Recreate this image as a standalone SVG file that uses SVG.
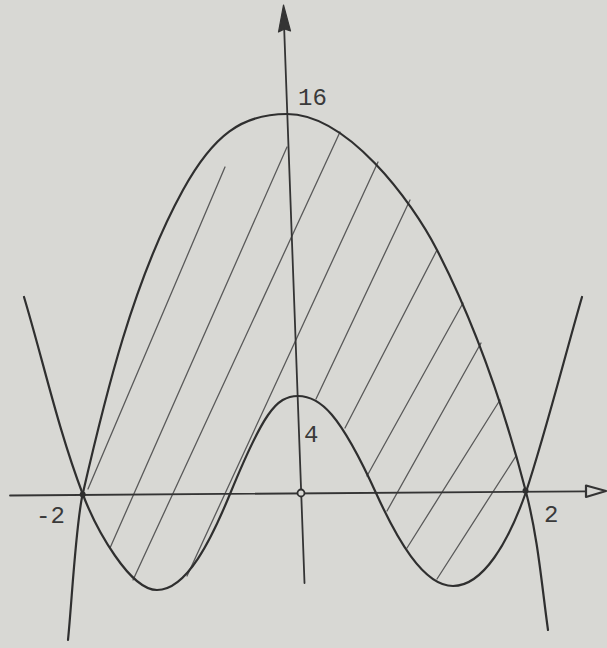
<svg xmlns="http://www.w3.org/2000/svg" width="607" height="648" viewBox="0 0 607 648">
<style>
.curve{fill:none;stroke:#2f2f2f;stroke-width:2.2;stroke-linecap:round;stroke-linejoin:round}
.hatch{fill:none;stroke:#5a5a5a;stroke-width:1.3;stroke-linecap:round}
.axis{fill:none;stroke:#343434;stroke-width:1.8;stroke-linecap:round}
.lbl{font-family:"Liberation Mono","Courier New",monospace;font-size:24px;fill:#3a3a3a}
</style>
<rect x="0" y="0" width="607" height="648" fill="#d8d8d4"/>
<g id="hatching">
<line class="hatch" x1="225" y1="167" x2="88" y2="489"/>
<line class="hatch" x1="287" y1="147" x2="110" y2="548"/>
<line class="hatch" x1="340" y1="132" x2="133" y2="580"/>
<line class="hatch" x1="378" y1="162" x2="187" y2="576"/>
<line class="hatch" x1="410" y1="200" x2="316" y2="399"/>
<line class="hatch" x1="437" y1="250" x2="345" y2="428"/>
<line class="hatch" x1="463" y1="303" x2="367" y2="476"/>
<line class="hatch" x1="481" y1="343" x2="387" y2="511"/>
<line class="hatch" x1="500" y1="400" x2="407" y2="548"/>
<line class="hatch" x1="516" y1="456" x2="437" y2="579"/>
</g>
<g id="axes">
<line class="axis" x1="10" y1="495.5" x2="588" y2="491.3"/>
<polygon points="606,491 586,485.5 586,497" fill="#d8d8d4" stroke="#343434" stroke-width="2.2" stroke-linejoin="round"/>
<line class="axis" x1="284" y1="24" x2="304.5" y2="583"/>
<polygon points="283.5,5 278.5,32 284.5,29 290.5,31" fill="#343434" stroke="#343434" stroke-width="1.2" stroke-linejoin="round"/>
</g>
<g id="upper-curve">
<path class="curve" d="M 68 640 C 72 600, 75.8 524, 82.7 494 C 105.7 394, 133.5 280, 183 190 C 213.3 135, 242 114, 287 114 C 347 114, 411.3 200, 437 250 C 478.2 330, 505.2 412, 526 492 C 538 538, 541.6 584, 548 630"/>
</g>
<g id="lower-curve">
<path class="curve" d="M 24 297 C 43.5 362, 58 429, 82.7 494 C 96.4 530, 130 590, 157 590 C 187 590, 211.5 539, 230 494 C 262.8 414, 276 396, 298 396 C 320 396, 339.6 413, 376 493 C 396.5 538, 423 586, 453 586 C 483 586, 508.5 542, 526 492 C 545.8 432, 564.6 357, 582 297"/>
</g>
<g id="points">
<circle cx="82.7" cy="494.5" r="3" fill="#2f2f2f"/>
<circle cx="525.5" cy="490.8" r="3" fill="#2f2f2f"/>
<circle cx="301" cy="493" r="3.5" fill="#d8d8d4" stroke="#2f2f2f" stroke-width="1.8"/>
</g>
<g id="labels">
<text class="lbl" x="298" y="105">16</text>
<text class="lbl" x="304" y="442">4</text>
<text class="lbl" x="36" y="523">-2</text>
<text class="lbl" x="544" y="522">2</text>
</g>
</svg>
